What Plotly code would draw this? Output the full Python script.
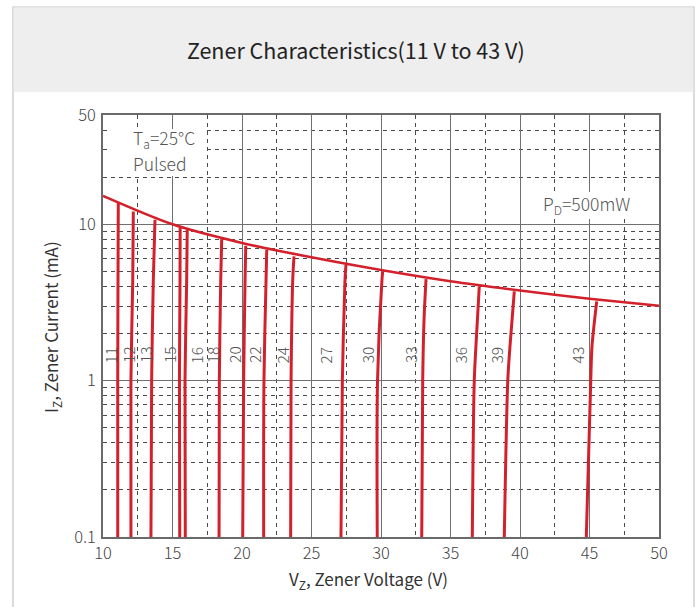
import math
import plotly.graph_objects as go

# ---------------- data ----------------
pd_v = [10, 15, 20, 25, 30, 35, 40, 45, 50]
pd_i = [15.2, 10.0, 7.6, 6.15, 5.1, 4.32, 3.77, 3.34, 3.01]

zener_names = ["11", "12", "13", "15", "16", "18", "20", "22", "24", "27", "30", "33", "36", "39", "43"]
zener_v = [
    [11.06, 11.06, 11.08, 11.10],
    [12.01, 12.01, 12.14, 12.18],
    [13.45, 13.50, 13.62, 13.74],
    [15.52, 15.50, 15.54, 15.55],
    [15.92, 15.90, 16.02, 16.06],
    [18.35, 18.37, 18.47, 18.54],
    [20.05, 20.12, 20.22, 20.27],
    [21.56, 21.58, 21.73, 21.78],
    [23.50, 23.53, 23.65, 23.74],
    [27.12, 27.22, 27.41, 27.48],
    [29.73, 29.75, 30.07, 30.12],
    [32.93, 33.00, 33.10, 33.24],
    [36.57, 36.71, 36.88, 37.07],
    [38.87, 39.12, 39.28, 39.59],
    [44.77, 45.09, 45.18, 45.52],
]
zener_i = [
    [0.1, 1, 4.42, 13.66],
    [0.1, 1, 4.42, 12.07],
    [0.1, 1, 4.42, 10.69],
    [0.1, 1, 4.42, 9.54],
    [0.1, 1, 4.42, 9.22],
    [0.1, 1, 4.42, 8.04],
    [0.1, 1, 4.42, 7.29],
    [0.1, 1, 4.42, 6.87],
    [0.1, 1, 4.42, 6.23],
    [0.1, 1, 4.42, 5.51],
    [0.1, 1, 4.42, 4.99],
    [0.1, 1, 2.5, 4.46],
    [0.1, 1, 2.0, 4.00],
    [0.1, 1, 1.66, 3.72],
    [0.1, 1, 1.66, 3.21],
]
label_v = [10.50, 11.75, 12.97, 14.70, 16.69, 17.82, 19.37, 20.81, 22.86, 25.97, 28.97, 32.04, 35.68, 38.27, 44.08]
label_i = [1.466] * 15

x_ticks = [10, 15, 20, 25, 30, 35, 40, 45, 50]
y_ticks = [0.1, 1, 10, 50]
y_ticktext = ["0.1", "1", "10", "50"]
y_minor = [0.2, 0.3, 0.4, 0.5, 0.6, 0.7, 0.8, 0.9,
           2, 3, 4, 5, 6, 7, 8, 9, 20, 30, 40]

# ---------------- styling ----------------
FONT = "Noto Sans CJK SC"
RED = "#d3212b"
W, H = 699, 607
L, R, T, B = 103, 40, 115, 70
PW, PH = W - L - R, H - T - B


def px(xp):
    return (xp - L) / PW


def py(yp):
    return (H - B - yp) / PH


fig = go.Figure()

for name, vs, cs in zip(zener_names, zener_v, zener_i):
    fig.add_trace(go.Scatter(x=vs, y=cs, mode="lines", name=name,
                             line=dict(color=RED, width=3, shape="spline", smoothing=0.8),
                             hoverinfo="skip", showlegend=False))

fig.add_trace(go.Scatter(x=pd_v, y=pd_i, mode="lines", name="PD",
                         line=dict(color=RED, width=2.6, shape="spline", smoothing=0.8),
                         hoverinfo="skip", showlegend=False))

LIGHT = dict(family=FONT, size=17.5, color="#555555", weight=300)

annotations = []
for name, lv, li in zip(zener_names, label_v, label_i):
    annotations.append(dict(x=lv, y=math.log10(li), xref="x", yref="y", yanchor="middle", xanchor="center",
                            text=name, textangle=-90, showarrow=False,
                            font=dict(family=FONT, size=15.5, color="#555555", weight=300)))

annotations += [
    dict(x=px(131), y=py(138.5), xref="paper", yref="paper", xanchor="left", yanchor="middle",
         text="T<sub>a</sub>=25°C", showarrow=False, font=LIGHT),
    dict(x=px(131), y=py(163.5), xref="paper", yref="paper", xanchor="left", yanchor="middle",
         text="Pulsed", showarrow=False, font=LIGHT),
    dict(x=px(541), y=py(205), xref="paper", yref="paper", xanchor="left", yanchor="middle",
         text="P<sub>D</sub>=500mW", showarrow=False, font=LIGHT),
    dict(x=px(356), y=py(49), xref="paper", yref="paper", xanchor="center", yanchor="middle",
         text="Zener Characteristics(11 V to 43 V)", showarrow=False,
         font=dict(family=FONT, size=21.5, color="#222222")),
    dict(x=px(368), y=py(579), xref="paper", yref="paper", xanchor="center", yanchor="middle",
         text="V<sub>Z</sub>, Zener Voltage (V)", showarrow=False,
         font=dict(family=FONT, size=17, color="#333333")),
    dict(x=px(51), y=py(327), xref="paper", yref="paper", xanchor="center", yanchor="middle",
         text="I<sub>Z</sub>, Zener Current (mA)", textangle=-90, showarrow=False,
         font=dict(family=FONT, size=17, color="#333333")),
]

shapes = [
    # card border
    dict(type="rect", xref="paper", yref="paper", x0=px(13), x1=px(694), y0=py(620), y1=py(7),
         line=dict(color="#c4c4c4", width=1.2), fillcolor="rgba(0,0,0,0)", layer="below"),
    # title band
    dict(type="rect", xref="paper", yref="paper", x0=px(13.6), x1=px(693.4), y0=py(92), y1=py(7.6),
         line=dict(width=0), fillcolor="#eeeeee", layer="below"),
    # white masks behind the in-plot notes (hide gridlines)
    dict(type="rect", xref="paper", yref="paper", x0=px(110), x1=px(206), y0=py(176), y1=py(129),
         line=dict(width=0), fillcolor="white", layer="above"),
    dict(type="rect", xref="paper", yref="paper", x0=px(536), x1=px(640), y0=py(219), y1=py(192),
         line=dict(width=0), fillcolor="white", layer="above"),
]

fig.update_layout(
    width=W, height=H,
    margin=dict(l=L, r=R, t=T, b=B),
    paper_bgcolor="white", plot_bgcolor="white",
    font=dict(family=FONT, size=16, color="#444444"),
    annotations=annotations, shapes=shapes,
    showlegend=False,
)

fig.update_xaxes(
    range=[10, 50], tickvals=x_ticks, ticks="",
    showgrid=True, gridcolor="#707070", gridwidth=1,
    showline=True, linecolor="#6a6a6a", linewidth=1.5, mirror=True,
    tickfont=dict(family=FONT, size=16.5, color="#444444", weight=300),
    minor=dict(dtick=2.5, tick0=10, showgrid=True, gridcolor="#4a4a4a", griddash="4px,4px", gridwidth=1),
    zeroline=False,
)
fig.update_yaxes(
    type="log", range=[-1, 1.69897], tickvals=y_ticks, ticktext=y_ticktext, ticks="",
    showgrid=True, gridcolor="#707070", gridwidth=1,
    showline=True, linecolor="#6a6a6a", linewidth=1.5, mirror=True,
    tickfont=dict(family=FONT, size=16.5, color="#444444", weight=300), ticklabelstandoff=2,
    minor=dict(tickvals=y_minor, showgrid=True, gridcolor="#4a4a4a", griddash="4px,4px", gridwidth=1),
    zeroline=False,
)

fig.write_html("out.html", config={"displayModeBar": False},
               post_script="document.body.style.margin='0';document.body.style.overflow='hidden';")
